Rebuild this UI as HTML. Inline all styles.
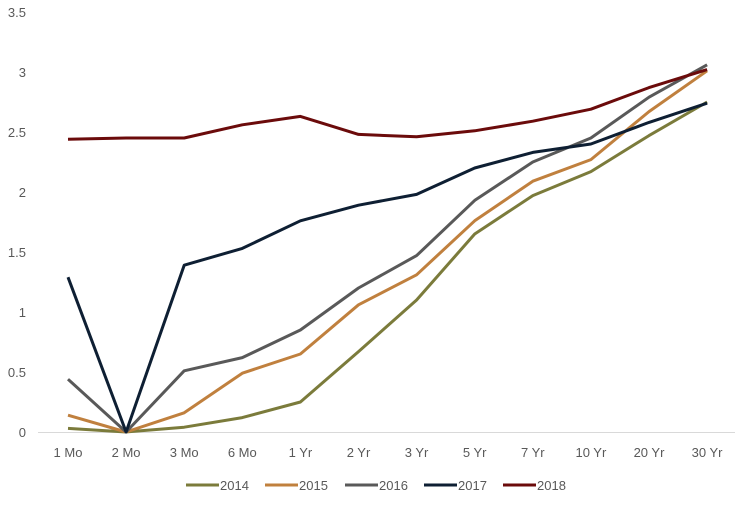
<!DOCTYPE html>
<html><head><meta charset="utf-8"><style>
html,body{margin:0;padding:0;background:#fff;}
svg{display:block;font-family:"Liberation Sans",sans-serif;}
</style></head><body>
<svg width="750" height="505" viewBox="0 0 750 505">
<g font-size="13" fill="#595959" text-anchor="end">
<text x="26" y="17">3.5</text>
<text x="26" y="77">3</text>
<text x="26" y="137">2.5</text>
<text x="26" y="197">2</text>
<text x="26" y="257">1.5</text>
<text x="26" y="317">1</text>
<text x="26" y="377">0.5</text>
<text x="26" y="437">0</text>
</g>
<line x1="38" y1="432.5" x2="735" y2="432.5" stroke="#d9d9d9" stroke-width="1"/>
<g font-size="13" fill="#595959" text-anchor="middle">
<text x="68" y="457">1 Mo</text>
<text x="126.1" y="457">2 Mo</text>
<text x="184.2" y="457">3 Mo</text>
<text x="242.3" y="457">6 Mo</text>
<text x="300.4" y="457">1 Yr</text>
<text x="358.5" y="457">2 Yr</text>
<text x="416.6" y="457">3 Yr</text>
<text x="474.7" y="457">5 Yr</text>
<text x="532.8" y="457">7 Yr</text>
<text x="590.9" y="457">10 Yr</text>
<text x="649" y="457">20 Yr</text>
<text x="707.1" y="457">30 Yr</text>
</g>
<g fill="none" stroke-width="3" stroke-linejoin="round">
<polyline stroke="#7b7b3b" points="68,428.4 126.1,432 184.2,427.2 242.3,417.6 300.4,402 358.5,351.6 416.6,300 474.7,234 532.8,195.6 590.9,171.6 649,135.6 707.1,102"/>
<polyline stroke="#c0803e" points="68,415.2 126.1,432 184.2,412.8 242.3,373.2 300.4,354 358.5,304.8 416.6,274.8 474.7,220.8 532.8,181.2 590.9,159.6 649,111.6 707.1,70.8"/>
<polyline stroke="#595959" points="68,379.2 126.1,432 184.2,370.8 242.3,357.6 300.4,330 358.5,288 416.6,255.6 474.7,200.4 532.8,162 590.9,138 649,97.2 707.1,64.8"/>
<polyline stroke="#0e1f33" points="68,277.2 126.1,432 184.2,265.2 242.3,248.4 300.4,220.8 358.5,205.2 416.6,194.4 474.7,168 532.8,152.4 590.9,144 649,122.4 707.1,103.2"/>
<polyline stroke="#6b0b0b" points="68,139.2 126.1,138 184.2,138 242.3,124.8 300.4,116.4 358.5,134.4 416.6,136.8 474.7,130.8 532.8,121.2 590.9,109.2 649,87.6 707.1,69.6"/>
</g>
<g stroke-width="3">
<line x1="186" y1="485" x2="219" y2="485" stroke="#7b7b3b"/>
<line x1="265" y1="485" x2="298" y2="485" stroke="#c0803e"/>
<line x1="345" y1="485" x2="378" y2="485" stroke="#595959"/>
<line x1="424" y1="485" x2="457" y2="485" stroke="#0e1f33"/>
<line x1="503" y1="485" x2="536" y2="485" stroke="#6b0b0b"/>
</g>
<g font-size="13" fill="#595959">
<text x="220" y="490">2014</text>
<text x="299" y="490">2015</text>
<text x="379" y="490">2016</text>
<text x="458" y="490">2017</text>
<text x="537" y="490">2018</text>
</g>
</svg>
</body></html>
